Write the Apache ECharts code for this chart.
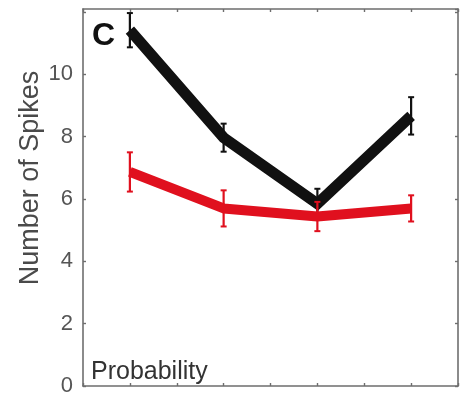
<!DOCTYPE html>
<html><head><meta charset="utf-8">
<script src="https://cdn.jsdelivr.net/npm/echarts@6/dist/echarts.min.js"></script>
<style>html,body{margin:0;padding:0;background:#fff}#c{width:461px;height:397px}</style>
</head><body><div id="c"></div>
<script>
var xPositions = [1, 2, 3, 4];
var blackMean = [11.42, 7.97, 5.85, 8.67];
var blackErr = [0.55, 0.45, 0.48, 0.6];
var redMean = [6.87, 5.70, 5.44, 5.70];
var redErr = [0.63, 0.58, 0.47, 0.42];
var yTicks = [0, 2, 4, 6, 8, 10];
var yTitle = 'Number of Spikes';
var panelLabel = 'C';
var xCaption = 'Probability';

var FONT = 'Liberation Sans';
function pairs(m){ return xPositions.map(function(x,i){ return [x, m[i]]; }); }
function errData(m,e){ return xPositions.map(function(x,i){ return [x, m[i]-e[i], m[i]+e[i]]; }); }
function errSeries(m,e,color){
  return {
    type:'custom', xAxisIndex:0, yAxisIndex:0, silent:true, z:3,
    data: errData(m,e),
    renderItem: function(params, api){
      var lo = api.coord([api.value(0), api.value(1)]);
      var hi = api.coord([api.value(0), api.value(2)]);
      var cw = 3;
      return {type:'group', children:[
        {type:'line', shape:{x1:lo[0],y1:lo[1],x2:hi[0],y2:hi[1]}, style:{stroke:color,lineWidth:2.2}},
        {type:'line', shape:{x1:lo[0]-cw,y1:lo[1],x2:lo[0]+cw,y2:lo[1]}, style:{stroke:color,lineWidth:2}},
        {type:'line', shape:{x1:hi[0]-cw,y1:hi[1],x2:hi[0]+cw,y2:hi[1]}, style:{stroke:color,lineWidth:2}}
      ]};
    }
  };
}
var axisCol = '#6e6e6e';
var chart = echarts.init(document.getElementById('c'));
var xBase = {type:'value', min:0.5, max:4.5, interval:0.5,
  axisLine:{show:true,onZero:false,lineStyle:{color:axisCol,width:1.6}},
  axisTick:{show:true,inside:true,length:3,lineStyle:{color:axisCol,width:1.4}},
  axisLabel:{show:false}, splitLine:{show:false}};
var yBase = {type:'value', min:0, max:12.1, interval:2,
  axisLine:{show:true,onZero:false,lineStyle:{color:axisCol,width:1.6}},
  axisTick:{show:true,inside:true,length:3,lineStyle:{color:axisCol,width:1.4}},
  splitLine:{show:false}};
chart.setOption({
  animation:false,
  backgroundColor:'#fff',
  grid:{left:83, top:9, right:3, bottom:5, containLabel:false},
  xAxis:[
    Object.assign({position:'bottom'}, xBase),
    Object.assign({position:'top'}, xBase)
  ],
  yAxis:[
    Object.assign({position:'left',
      axisLabel:{show:true, margin:10, fontFamily:FONT, fontSize:22, color:'#555',
        showMaxLabel:false,
        formatter:function(v){ return yTicks.indexOf(v) >= 0 ? String(v) : ''; }}
    }, yBase),
    Object.assign({position:'right', axisLabel:{show:false}}, yBase)
  ],
  graphic:[
    {type:'text', x:31, y:178, rotation:Math.PI/2,
      style:{text:yTitle, font:'27px "'+FONT+'"', fill:'#4a4a4a', align:'center', verticalAlign:'middle'}, z:10},
    {type:'text', left:92, top:20, style:{text:panelLabel, font:'bold 32px "'+FONT+'"', fill:'#111'}, z:10},
    {type:'text', left:91, top:360, style:{text:xCaption, font:'25px "'+FONT+'"', fill:'#333'}, z:10}
  ],
  series:[
    {type:'line', data:pairs(blackMean), xAxisIndex:0, yAxisIndex:0, z:2,
      symbol:'none', lineStyle:{color:'#111', width:11, join:'miter', cap:'butt'}},
    errSeries(blackMean, blackErr, '#111'),
    {type:'line', data:pairs(redMean), xAxisIndex:0, yAxisIndex:0, z:4,
      symbol:'none', lineStyle:{color:'#e0101e', width:10, join:'round', cap:'butt'}},
    errSeries(redMean, redErr, '#e0101e')
  ]
});
</script></body></html>
